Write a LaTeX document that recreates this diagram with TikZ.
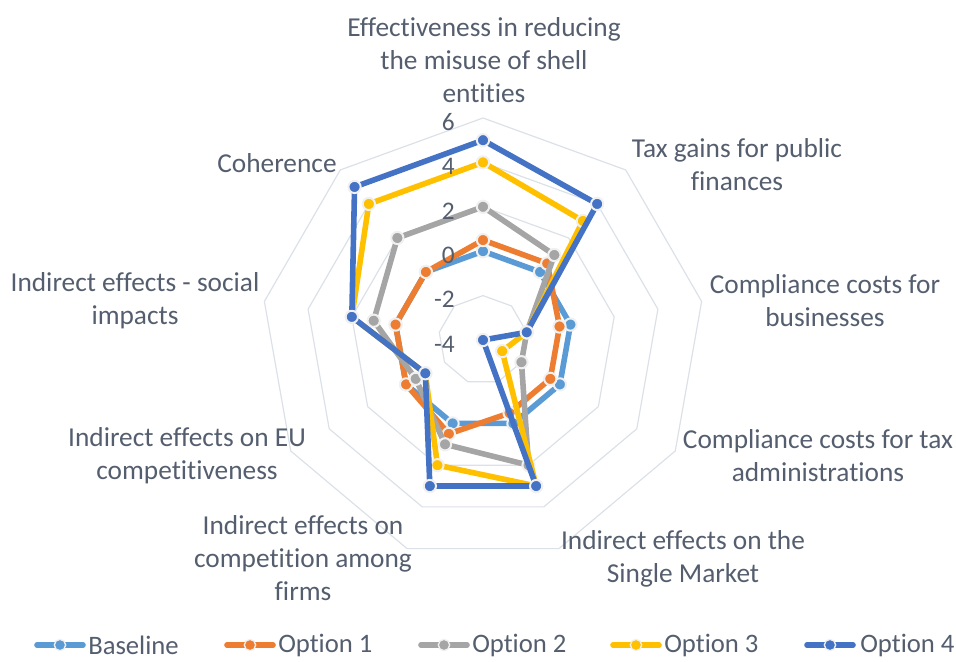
\documentclass[tikz,border=0pt]{standalone}
\usepackage{fontspec}
\setmainfont{Carlito}[Ligatures=NoCommon]
\definecolor{baseC}{RGB}{91,155,213}
\definecolor{opt1C}{RGB}{237,125,49}
\definecolor{opt2C}{RGB}{165,165,165}
\definecolor{opt3C}{RGB}{255,192,0}
\definecolor{opt4C}{RGB}{68,114,196}
\definecolor{labelC}{RGB}{84,94,110}
\definecolor{gridC}{RGB}{220,225,232}

\begin{document}
\begin{tikzpicture}[x=0.75pt,y=0.75pt,
    gridring/.style={gridC,line width=0.9pt,line join=round},
    series/.style={#1,line width=4.2pt,line join=round,mark=*,mark size=4.6pt,
      mark options={fill=#1,draw=white!88!gray,line width=1.5pt,solid}},
    legline/.style={#1,line width=4.2pt,line cap=round},
    legmark/.style={circle,fill=#1,draw=white!88!gray,line width=1pt,inner sep=0pt,minimum size=8.5pt},
    axislabel/.style={labelC,align=center,font=\fontsize{20.5}{24.75}\selectfont},
    ticklabel/.style={labelC,anchor=east,inner sep=0pt,font=\fontsize{19}{20}\selectfont},
    legendtext/.style={labelC,anchor=west,inner sep=0pt,font=\fontsize{20}{22}\selectfont}]
    \useasboundingbox (-483,-321) rectangle (473,340);
    % rings and series ======================================
    \begin{scope}[x=16.65pt,y=16.65pt]
    \foreach \r in {2,4,...,10}
        \draw[gridring] (90:\r) \foreach \a in {50,10,-30,-70,-110,-150,-190,-230} {-- (\a:\r)} -- cycle;
    \draw[series=baseC] plot coordinates {(90:4) (50:4) (10:4) (-30:4) (-70:4) (-110:4) (-150:4) (-190:4) (-230:4)} -- cycle;
    \draw[series=opt1C] plot coordinates {(90:4.5) (50:4.5) (10:3.5) (-30:3.5) (-70:3.5) (-110:4.5) (-150:4) (-190:4) (-230:4)} -- cycle;
    \draw[series=opt2C] plot coordinates {(90:6) (50:5) (10:2) (-30:2) (-70:6) (-110:5) (-150:3.5) (-190:5) (-230:6)} -- cycle;
    \draw[series=opt3C] plot coordinates {(90:8) (50:7) (10:2) (-30:1) (-70:7) (-110:6) (-150:3) (-190:6) (-230:8)} -- cycle;
    \draw[series=opt4C] plot coordinates {(90:9) (50:8) (10:2) (-30:0) (-70:7) (-110:7) (-150:3) (-190:6) (-230:9)} -- cycle;
    \end{scope}
    % value axis ============================================
    \foreach \v/\r in {6/10,4/8,2/6,0/4,-2/2,-4/0}
        \node[ticklabel] (tick\r) at (-28,{\r*22.2-4}) {\v};
    % category labels =======================================
    \node[axislabel] (effect)      at (1,280)      {Effectiveness in reducing\\the misuse of shell\\entities};
    \node[axislabel] (taxgain)     at (254,175)    {Tax gains for public\\finances};
    \node[axislabel] (compbus)     at (342,39)     {Compliance costs for\\businesses};
    \node[axislabel] (comptax)     at (335,-116)   {Compliance costs for tax\\administrations};
    \node[axislabel] (single)      at (200,-219)   {Indirect effects on the\\Single Market};
    \node[axislabel] (competition) at (-180,-218)  {Indirect effects on\\competition among\\firms};
    \node[axislabel] (eucomp)      at (-296,-116)  {Indirect effects on EU\\competitiveness};
    \node[axislabel] (social)      at (-348,39)    {Indirect effects - social\\impacts};
    \node[axislabel] (coherence)   at (-206,177)   {Coherence};
    % legend ================================================
    \draw[legline=baseC] (-446,-305) -- (-400,-305); \node[legmark=baseC] (mbase) at (-423,-305) {};
    \node[legendtext] (lbase) at (-395,-305) {Baseline};
    \draw[legline=opt1C] (-256,-305) -- (-210,-305); \node[legmark=opt1C] (mopt1) at (-233,-305) {};
    \node[legendtext] (lopt1) at (-205,-305) {Option 1};
    \draw[legline=opt2C] (-62,-305) -- (-16,-305);   \node[legmark=opt2C] (mopt2) at (-39,-305) {};
    \node[legendtext] (lopt2) at (-11,-305) {Option 2};
    \draw[legline=opt3C] (130,-305) -- (176,-305);   \node[legmark=opt3C] (mopt3) at (153,-305) {};
    \node[legendtext] (lopt3) at (181,-305) {Option 3};
    \draw[legline=opt4C] (324,-305) -- (370,-305);   \node[legmark=opt4C] (mopt4) at (347,-305) {};
    \node[legendtext] (lopt4) at (377,-305) {Option 4};
\end{tikzpicture}
\end{document}
